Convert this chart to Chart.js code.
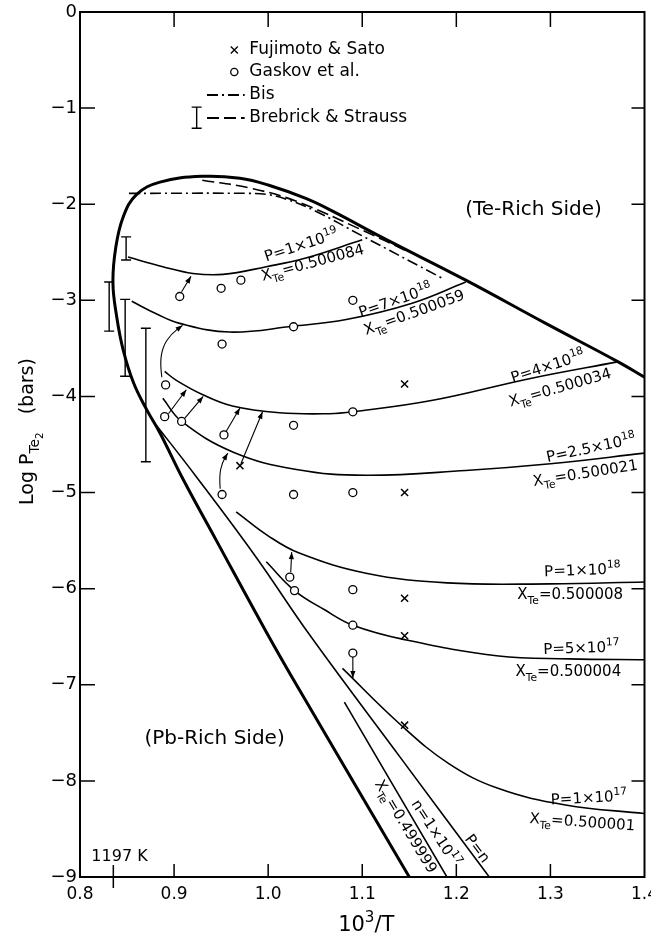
<!DOCTYPE html>
<html>
<head>
<meta charset="utf-8">
<script src="https://cdn.jsdelivr.net/npm/chart.js@4.4.0/dist/chart.umd.min.js"></script>
<style>
  html, body { margin: 0; padding: 0; background: #fff; }
</style>
</head>
<body>
<canvas id="chart" width="651" height="944"></canvas>
<script>
const FONT = '"DejaVu Sans", sans-serif';

// axis ranges (10^3/T and log P_Te2)
const xMin = 0.8, xMax = 1.4;
const yMin = -9, yMax = 0;
const meltTemp = 1197;

// thick solidus boundary, traced from the bottom up and round to the right
const solidus = [[1.150,-9.0],[1.033,-7.05],[0.998,-6.45],[0.945,-5.5],[0.910,-4.87],[0.885,-4.38],[0.871,-4.14],[0.857,-3.86],[0.846,-3.52],[0.839,-3.17],[0.835,-2.82],[0.838,-2.45],[0.846,-2.13],[0.860,-1.90],[0.885,-1.77],[0.93,-1.71],[0.97,-1.73],[1.00,-1.80],[1.04,-1.94],[1.07,-2.08],[1.12,-2.34],[1.21,-2.79],[1.295,-3.24],[1.372,-3.64],[1.40,-3.80]];
const bisLine = [[0.852,-1.887],[0.98,-1.887],[1.00,-1.90],[1.02,-1.95],[1.05,-2.07],[1.10,-2.33],[1.185,-2.77]];
const brebrickLine = [[0.93,-1.75],[0.98,-1.83],[1.03,-1.97],[1.10,-2.27],[1.15,-2.50]];

// isobars
const isoP1e19 = [[0.851,-2.55],[0.888,-2.65],[0.92,-2.72],[0.952,-2.73],[0.998,-2.65],[1.04,-2.56],[1.10,-2.37]];
const isoP7e18 = [[0.855,-3.01],[0.881,-3.14],[0.906,-3.24],[0.959,-3.33],[1.026,-3.27],[1.083,-3.20],[1.153,-3.03],[1.21,-2.81]];
const isoP4e18 = [[0.890,-3.74],[0.902,-3.83],[0.93,-3.98],[0.962,-4.10],[1.012,-4.17],[1.065,-4.18],[1.09,-4.16],[1.175,-4.04],[1.28,-3.81],[1.371,-3.64]];
const isoP25e18 = [[0.888,-4.02],[0.908,-4.26],[0.963,-4.58],[1.03,-4.76],[1.104,-4.82],[1.21,-4.77],[1.30,-4.70],[1.40,-4.59]];
const isoP1e18 = [[0.966,-5.20],[1.0,-5.45],[1.033,-5.63],[1.104,-5.84],[1.19,-5.94],[1.30,-5.95],[1.40,-5.93]];
const isoP5e17 = [[0.998,-5.72],[1.028,-6.02],[1.06,-6.22],[1.09,-6.38],[1.145,-6.53],[1.245,-6.70],[1.32,-6.73],[1.40,-6.74]];
const isoP1e17 = [[1.079,-6.83],[1.139,-7.40],[1.192,-7.82],[1.245,-8.08],[1.316,-8.25],[1.40,-8.34]];
const lineN1e17 = [[1.081,-7.18],[1.190,-9.0]];
const linePeqN = [[0.878,-4.26],[0.924,-4.84],[0.987,-5.67],[1.044,-6.48],[1.14,-7.75],[1.235,-9.0]];

// measurements
const fujimotoX = [0.970, 1.145, 1.145, 1.145, 1.145, 1.145];
const fujimotoY = [-4.72, -3.87, -5.00, -6.10, -6.49, -7.42];
const gaskovX = [0.906, 0.950, 0.971, 1.090, 1.027, 0.951, 0.891, 0.890, 0.908, 0.953, 1.027, 1.090, 0.951, 1.027, 1.090, 1.023, 1.028, 1.090, 1.090, 1.090];
const gaskovY = [-2.96, -2.875, -2.79, -3.00, -3.275, -3.455, -3.88, -4.21, -4.26, -4.40, -4.30, -4.16, -5.02, -5.02, -5.00, -5.88, -6.02, -6.01, -6.38, -6.67];
const errX = [0.849, 0.831, 0.848, 0.870];
const errHi = [-2.34, -2.81, -2.99, -3.29];
const errLo = [-2.58, -3.32, -3.79, -4.68];

// arrows from data points to the isobars
const arrowPaths = [
  [[0.908,-2.91],[0.918,-2.75]],
  [[0.887,-3.80],[0.885,-3.66],[0.888,-3.48],[0.897,-3.35],[0.909,-3.26]],
  [[0.894,-4.18],[0.913,-3.93]],
  [[0.911,-4.23],[0.931,-4.00]],
  [[0.955,-4.37],[0.970,-4.12]],
  [[0.971,-4.70],[0.994,-4.16]],
  [[0.949,-4.96],[0.948,-4.83],[0.951,-4.69],[0.957,-4.59]],
  [[1.024,-5.83],[1.025,-5.62]],
  [[1.09,-6.71],[1.09,-6.93]]
];

const curveLabels = [
  { text: 'P=1×10^{19}', x: 1.035, y: -2.42, rot: -18 },
  { text: 'X_{Te}=0.500084', x: 1.047, y: -2.60, rot: -15 },
  { text: 'P=7×10^{18}', x: 1.135, y: -2.995, rot: -19 },
  { text: 'X_{Te}=0.500059', x: 1.155, y: -3.12, rot: -20 },
  { text: 'P=4×10^{18}', x: 1.297, y: -3.68, rot: -18 },
  { text: 'X_{Te}=0.500034', x: 1.310, y: -3.90, rot: -16 },
  { text: 'P=2.5×10^{18}', x: 1.343, y: -4.53, rot: -12 },
  { text: 'X_{Te}=0.500021', x: 1.337, y: -4.79, rot: -9 },
  { text: 'P=1×10^{18}', x: 1.334, y: -5.80, rot: -2 },
  { text: 'X_{Te}=0.500008', x: 1.321, y: -6.05, rot: 0 },
  { text: 'P=5×10^{17}', x: 1.333, y: -6.61, rot: -2 },
  { text: 'X_{Te}=0.500004', x: 1.319, y: -6.85, rot: 0 },
  { text: 'P=1×10^{17}', x: 1.341, y: -8.17, rot: -3 },
  { text: 'X_{Te}=0.500001', x: 1.334, y: -8.42, rot: 4 },
  { text: 'X_{Te}=0.499999', x: 1.147, y: -8.47, rot: 59 },
  { text: 'n=1×10^{17}', x: 1.179, y: -8.54, rot: 57 },
  { text: 'P=n', x: 1.223, y: -8.70, rot: 53 }
];

const toPts = arr => arr.map(([x, y]) => ({ x, y }));
const zipPts = (xs, ys) => xs.map((x, i) => ({ x, y: ys[i] }));

function curve(data, width, dash) {
  return {
    data: toPts(data), showLine: true, pointRadius: 0, tension: 0.4,
    borderColor: '#000', borderWidth: width, borderDash: dash || [], fill: false
  };
}

function parseRich(s) {
  const parts = [];
  const re = /(__|_|\^)\{([^}]*)\}|([^_^]+)/g;
  let m;
  while ((m = re.exec(s))) {
    if (m[3]) parts.push({ t: m[3], lvl: 0 });
    else parts.push({ t: m[2], lvl: m[1] === '__' ? 2 : m[1] === '_' ? 1 : -1 });
  }
  return parts;
}

function drawRich(ctx, s, cx, cy, size, rot) {
  const parts = parseRich(s);
  const sizeOf = p => p.lvl === 0 ? size : p.lvl === 2 ? size * 0.55 : size * 0.72;
  let w = 0;
  parts.forEach(p => { ctx.font = sizeOf(p) + 'px ' + FONT; p.w = ctx.measureText(p.t).width; w += p.w; });
  ctx.save();
  ctx.translate(cx, cy);
  ctx.rotate(rot * Math.PI / 180);
  ctx.textAlign = 'left';
  ctx.textBaseline = 'alphabetic';
  let x = -w / 2;
  const base = size * 0.36;
  parts.forEach(p => {
    ctx.font = sizeOf(p) + 'px ' + FONT;
    const dy = p.lvl === 1 ? size * 0.32 : p.lvl === 2 ? size * 0.55 : p.lvl === -1 ? -size * 0.42 : 0;
    ctx.fillText(p.t, x, base + dy);
    x += p.w;
  });
  ctx.restore();
}

function arrowHead(ctx, x0, y0, x1, y1) {
  const a = Math.atan2(y1 - y0, x1 - x0), len = 7, half = 2.6;
  ctx.beginPath();
  ctx.moveTo(x1, y1);
  ctx.lineTo(x1 - len * Math.cos(a) + half * Math.sin(a), y1 - len * Math.sin(a) - half * Math.cos(a));
  ctx.lineTo(x1 - len * Math.cos(a) - half * Math.sin(a), y1 - len * Math.sin(a) + half * Math.cos(a));
  ctx.closePath();
  ctx.fill();
}

const overlay = {
  id: 'overlay',
  afterDatasetsDraw(chart) {
    const ctx = chart.ctx, xs = chart.scales.x, ys = chart.scales.y, a = chart.chartArea;
    const X = v => xs.getPixelForValue(v), Y = v => ys.getPixelForValue(v);
    ctx.save();
    ctx.strokeStyle = '#000';
    ctx.fillStyle = '#000';

    // frame with inward ticks
    ctx.lineWidth = 2;
    ctx.strokeRect(a.left, a.top, a.right - a.left, a.bottom - a.top);
    ctx.lineWidth = 1.5;
    ctx.beginPath();
    ys.ticks.forEach(t => {
      if (t.value > yMin && t.value < yMax) {
        const y = Y(t.value);
        ctx.moveTo(a.left, y); ctx.lineTo(a.left + 15, y);
        ctx.moveTo(a.right, y); ctx.lineTo(a.right - 13, y);
      }
    });
    xs.ticks.forEach(t => {
      if (t.value > xMin + 0.01 && t.value < xMax - 0.01) {
        const x = X(t.value);
        ctx.moveTo(x, a.top); ctx.lineTo(x, a.top + 15);
        ctx.moveTo(x, a.bottom); ctx.lineTo(x, a.bottom - 13);
      }
    });
    const km = X(1000 / meltTemp);
    ctx.moveTo(km, a.bottom - 12); ctx.lineTo(km, a.bottom + 11);
    ctx.stroke();

    // error bars
    ctx.lineWidth = 1.4;
    ctx.beginPath();
    errX.forEach((ex, i) => {
      const x = X(ex), y0 = Y(errHi[i]), y1 = Y(errLo[i]);
      ctx.moveTo(x, y0); ctx.lineTo(x, y1);
      ctx.moveTo(x - 5, y0); ctx.lineTo(x + 5, y0);
      ctx.moveTo(x - 5, y1); ctx.lineTo(x + 5, y1);
    });
    ctx.stroke();

    // arrows
    ctx.lineWidth = 1.1;
    arrowPaths.forEach(path => {
      const pts = path.map(([x, y]) => [X(x), Y(y)]);
      ctx.beginPath();
      ctx.moveTo(pts[0][0], pts[0][1]);
      for (let i = 1; i < pts.length - 1; i++) {
        const mx = (pts[i][0] + pts[i + 1][0]) / 2, my = (pts[i][1] + pts[i + 1][1]) / 2;
        ctx.quadraticCurveTo(pts[i][0], pts[i][1], mx, my);
      }
      const n = pts.length;
      ctx.lineTo(pts[n - 1][0], pts[n - 1][1]);
      ctx.stroke();
      arrowHead(ctx, pts[n - 2][0], pts[n - 2][1], pts[n - 1][0], pts[n - 1][1]);
    });

    // curve labels
    curveLabels.forEach(l => drawRich(ctx, l.text, X(l.x), Y(l.y), 15, l.rot));

    // region labels
    drawRich(ctx, '(Te-Rich Side)', X(1.282), Y(-2.04), 20, 0);
    drawRich(ctx, '(Pb-Rich Side)', X(0.943), Y(-7.54), 20, 0);
    drawRich(ctx, meltTemp + ' K', X(0.842), Y(-8.77), 16, 0);

    // legend
    const lx = X(0.964), tx = X(0.98);
    const rowY = [-0.395, -0.624, -0.864, -1.103].map(Y);
    ctx.font = '17px ' + FONT;
    ctx.textBaseline = 'middle';
    ctx.textAlign = 'left';
    ['Fujimoto & Sato', 'Gaskov et al.', 'Bis', 'Brebrick & Strauss'].forEach((s, i) => ctx.fillText(s, tx, rowY[i]));
    ctx.lineWidth = 1.3;
    ctx.beginPath();
    ctx.moveTo(lx - 3.5, rowY[0] - 3.5); ctx.lineTo(lx + 3.5, rowY[0] + 3.5);
    ctx.moveTo(lx + 3.5, rowY[0] - 3.5); ctx.lineTo(lx - 3.5, rowY[0] + 3.5);
    ctx.stroke();
    ctx.beginPath();
    ctx.arc(lx, rowY[1], 3.6, 0, Math.PI * 2);
    ctx.stroke();
    const l0 = X(0.935), l1 = X(0.975);
    ctx.lineWidth = 2;
    ctx.setLineDash([11, 4, 2, 4]);
    ctx.beginPath(); ctx.moveTo(l0, rowY[2]); ctx.lineTo(l1, rowY[2]); ctx.stroke();
    ctx.setLineDash([12, 5]);
    ctx.beginPath(); ctx.moveTo(l0, rowY[3]); ctx.lineTo(l1, rowY[3]); ctx.stroke();
    ctx.setLineDash([]);
    const ebx = X(0.924), eb0 = Y(-0.99), eb1 = Y(-1.21);
    ctx.lineWidth = 1.4;
    ctx.beginPath();
    ctx.moveTo(ebx, eb0); ctx.lineTo(ebx, eb1);
    ctx.moveTo(ebx - 5, eb0); ctx.lineTo(ebx + 5, eb0);
    ctx.moveTo(ebx - 5, eb1); ctx.lineTo(ebx + 5, eb1);
    ctx.stroke();

    // axis titles
    drawRich(ctx, '10^{3}/T', (a.left + a.right) / 2 + 4, a.bottom + 46, 21, 0);
    drawRich(ctx, 'Log P_{Te}__{2}   (bars)', 26, (a.top + a.bottom) / 2 - 13, 19, -90);
    ctx.restore();
  }
};

new Chart(document.getElementById('chart'), {
  type: 'scatter',
  data: {
    datasets: [
      { data: zipPts(gaskovX, gaskovY), pointStyle: 'circle', pointRadius: 4, borderColor: '#000', backgroundColor: '#fff', borderWidth: 1.3 },
      { data: zipPts(fujimotoX, fujimotoY), pointStyle: 'crossRot', pointRadius: 5, borderColor: '#000', borderWidth: 1.5 },
      curve(solidus, 3),
      curve(bisLine, 1.6, [11, 4, 2, 4]),
      curve(brebrickLine, 1.6, [12, 5]),
      curve(isoP1e19, 1.6),
      curve(isoP7e18, 1.6),
      curve(isoP4e18, 1.6),
      curve(isoP25e18, 1.6),
      curve(isoP1e18, 1.6),
      curve(isoP5e17, 1.6),
      curve(isoP1e17, 1.6),
      curve(lineN1e17, 1.6),
      curve(linePeqN, 1.6)
    ]
  },
  options: {
    responsive: false,
    animation: false,
    devicePixelRatio: 1,
    layout: { padding: { top: 12, right: 4, bottom: 0, left: 0 } },
    plugins: { legend: { display: false }, tooltip: { enabled: false } },
    scales: {
      x: {
        type: 'linear', min: xMin, max: xMax,
        grid: { display: false, drawTicks: false },
        border: { display: false },
        ticks: { stepSize: 0.1, padding: 7, color: '#000', font: { family: FONT, size: 17 }, callback: v => v.toFixed(1) },
        afterFit: s => { s.height = 67; s.paddingLeft = 0; s.paddingRight = 0; }
      },
      y: {
        type: 'linear', min: yMin, max: yMax,
        grid: { display: false, drawTicks: false },
        border: { display: false },
        ticks: { stepSize: 1, padding: 3, color: '#000', font: { family: FONT, size: 18 }, callback: v => v < 0 ? '−' + (-v) : String(v) },
        afterFit: s => { s.width = 80; s.paddingTop = 0; s.paddingBottom = 0; }
      }
    }
  },
  plugins: [overlay]
});
</script>
</body>
</html>
